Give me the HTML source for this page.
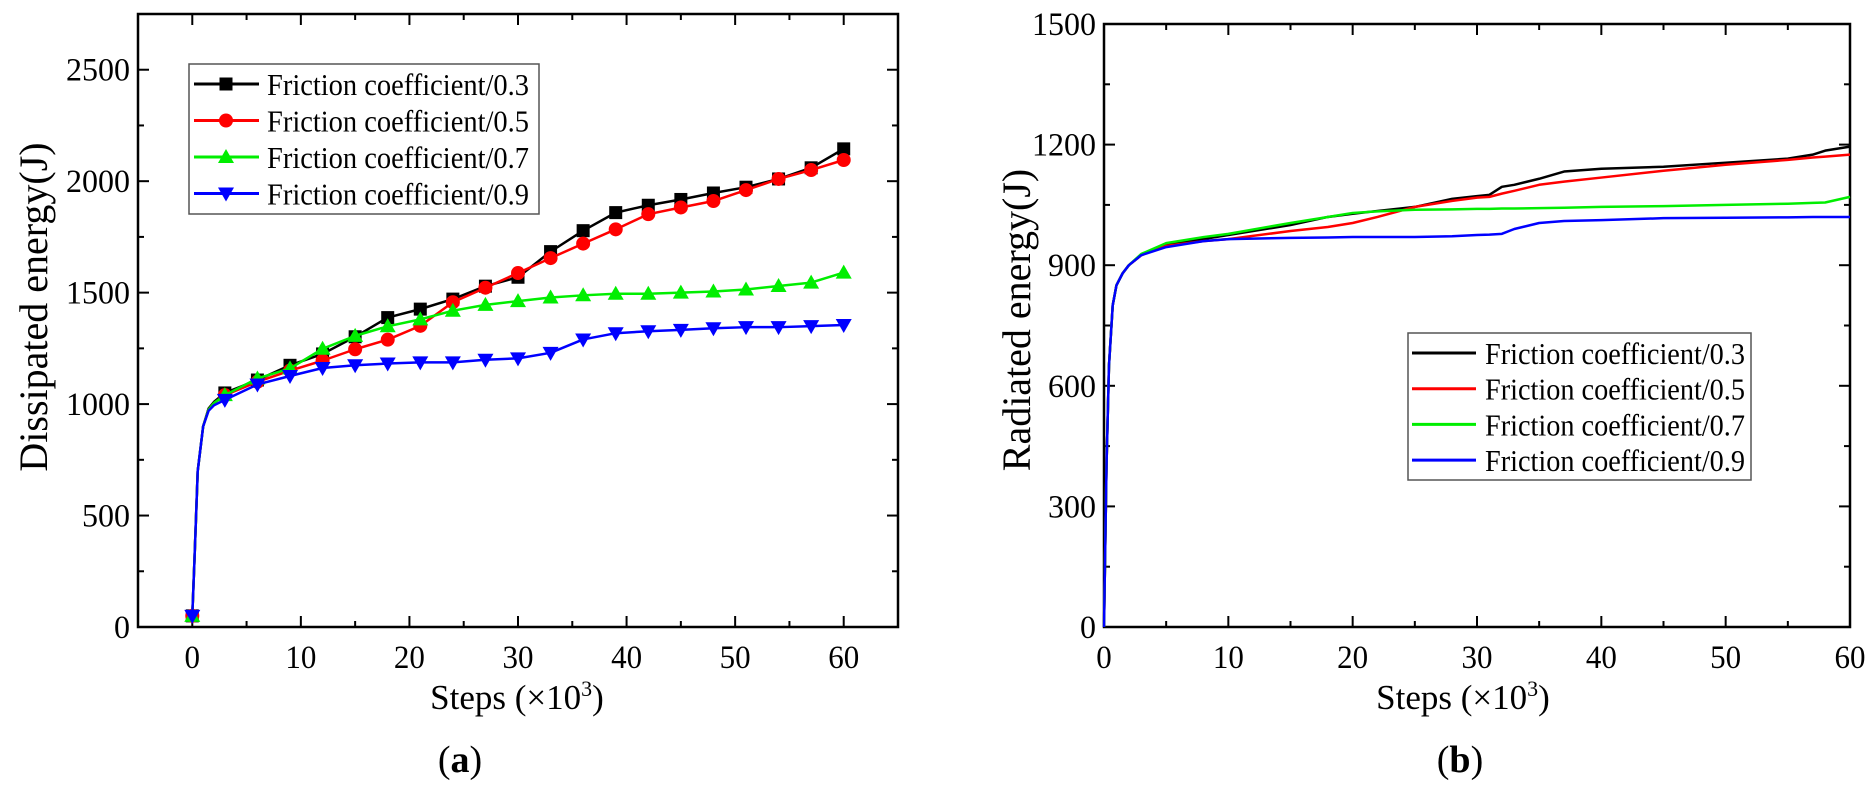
<!DOCTYPE html>
<html><head><meta charset="utf-8"><style>
body{margin:0;background:#fff;width:1874px;height:794px;overflow:hidden}
svg{display:block;font-family:"Liberation Serif",serif}
</style></head><body>
<svg id="fig" width="1874" height="794"></svg>
<script>
// ---- Chart (a) data ----
const stepsA = [0,0.2,0.5,1,1.5,2,3,6,9,12,15,18,21,24,27,30,33,36,39,42,45,48,51,54,57,60];
const dissip03 = [50,300,700,900,980,1010,1050,1108,1174,1225,1302,1388,1426,1471,1529,1569,1684,1778,1859,1892,1918,1947,1973,2010,2060,2145];
const dissip05 = [50,300,700,900,975,1005,1040,1100,1150,1195,1246,1289,1351,1457,1522,1588,1655,1720,1784,1852,1882,1911,1960,2010,2050,2095];
const dissip07 = [50,300,700,900,975,1005,1040,1115,1160,1248,1306,1349,1380,1419,1445,1462,1478,1488,1495,1495,1500,1505,1514,1530,1545,1590];
const dissip09 = [50,300,700,900,970,995,1019,1088,1126,1162,1174,1182,1187,1187,1199,1205,1230,1290,1318,1327,1333,1340,1345,1345,1350,1355];
const ticksAX = [0,10,20,30,40,50,60];
const ticksAY = [0,500,1000,1500,2000,2500];
// ---- Chart (b) data ----
const stepsB = [0,0.2,0.4,0.7,1,1.5,2,3,5,8,10,15,18,20,22,25,28,30,31,32,33,35,37,40,45,50,55,57,58,60];
const rad03 = [0,400,650,800,850,880,900,925,950,965,975,1000,1020,1028,1035,1045,1065,1072,1075,1095,1100,1115,1133,1140,1145,1155,1165,1175,1185,1195];
const rad05 = [0,400,650,800,850,880,900,925,948,960,965,985,995,1005,1020,1045,1060,1068,1070,1078,1085,1100,1108,1118,1135,1150,1162,1168,1170,1175];
const rad07 = [0,400,650,800,850,880,900,928,955,970,978,1005,1020,1030,1034,1038,1039,1040,1040,1041,1041,1042,1043,1045,1047,1050,1053,1055,1056,1070];
const rad09 = [0,400,650,800,850,880,900,925,945,960,965,968,969,970,970,970,972,975,976,978,990,1005,1010,1012,1017,1018,1019,1020,1020,1020];
const ticksBX = [0,10,20,30,40,50,60];
const ticksBY = [0,300,600,900,1200,1500];
const labels = ["Friction coefficient/0.3","Friction coefficient/0.5","Friction coefficient/0.7","Friction coefficient/0.9"];
const colors = ["#000000","#ff0000","#00ee00","#0000ff"];

const NS="http://www.w3.org/2000/svg";
const svg=document.getElementById('fig');
function mk(tag,attrs,parent){const e=document.createElementNS(NS,tag);for(const k in attrs)e.setAttribute(k,attrs[k]);(parent||svg).appendChild(e);return e;}

function axes(g,box,xs,ys,xMin,xMax,yMin,yMax,xMinor,yMinor){
  const sx=v=>box.l+(v-xMin)/(xMax-xMin)*(box.r-box.l);
  const sy=v=>box.b-(v-yMin)/(yMax-yMin)*(box.b-box.t);
  for(let v=Math.ceil(xMin/xMinor)*xMinor;v<=xMax+1e-9;v+=xMinor){
    const major=xs.includes(v);const L=major?11:6;
    const t1=mk('line',{x1:sx(v),x2:sx(v),y1:box.b,y2:box.b-L,stroke:'#000','stroke-width':2},g);
    
    
    mk('line',{x1:sx(v),x2:sx(v),y1:box.t,y2:box.t+L,stroke:'#000','stroke-width':2},g);
  }
  for(let v=yMin;v<=yMax+1e-9;v+=yMinor){
    const major=ys.includes(v);const L=major?11:6;
    const t2=mk('line',{x1:box.l,x2:box.l+L,y1:sy(v),y2:sy(v),stroke:'#000','stroke-width':2},g);
    
    
    mk('line',{x1:box.r-L,x2:box.r,y1:sy(v),y2:sy(v),stroke:'#000','stroke-width':2},g);
  }
  xs.forEach(v=>{const t=mk('text',{x:sx(v),y:box.b+41,'text-anchor':'middle','font-size':33,textLength:String(v).length*15.5,lengthAdjust:'spacingAndGlyphs'},g);t.textContent=v;
    
    });
  ys.forEach(v=>{const t=mk('text',{x:box.l-8,y:sy(v)+11,'text-anchor':'end','font-size':33,textLength:String(v).length*16,lengthAdjust:'spacingAndGlyphs'},g);t.textContent=v;
    
    });
  const fr=mk('rect',{x:box.l,y:box.t,width:box.r-box.l,height:box.b-box.t,fill:'none',stroke:'#000','stroke-width':2.5},g);
  
  
  return {sx,sy};
}
function marker(g,kind,x,y,c){
  let m;
  if(kind===0)m=mk('rect',{x:x-6.5,y:y-6.5,width:13,height:13,fill:c},g);
  else if(kind===1)m=mk('circle',{cx:x,cy:y,r:7,fill:c},g);
  else if(kind===2)m=mk('polygon',{points:`${x},${y-8} ${x-8},${y+6} ${x+8},${y+6}`,fill:c},g);
  else m=mk('polygon',{points:`${x},${y+8} ${x-8},${y-6} ${x+8},${y-6}`,fill:c},g);
  
  
}

// ---- Chart (a) ----
const gA=mk('g',{});


const boxA={l:138,r:898,t:14,b:627};
const A=axes(gA,boxA,ticksAX,ticksAY,-5,65,0,2750,5,250);
[dissip03,dissip05,dissip07,dissip09].forEach((ser,i)=>{
  const p=mk('polyline',{points:stepsA.map((x,j)=>A.sx(x)+','+A.sy(ser[j])).join(' '),fill:'none',stroke:colors[i],'stroke-width':2.5,'stroke-linejoin':'round'},gA);
  
  
  stepsA.forEach((x,j)=>{if(x%3===0)marker(gA,i,A.sx(x),A.sy(ser[j]),colors[i]);});
});
let t=mk('text',{x:517,y:709,'text-anchor':'middle','font-size':35},gA);
t.innerHTML='Steps (×10<tspan dy="-13" font-size="22">3</tspan><tspan dy="13">)</tspan>';


t=mk('text',{transform:'translate(47,307) rotate(-90)','text-anchor':'middle','font-size':40},gA);
t.textContent='Dissipated energy(J)';


t=mk('text',{x:460,y:772,'text-anchor':'middle','font-size':38},gA);
t.innerHTML='(<tspan font-weight="bold">a</tspan>)';


// legend a
const lgA=mk('g',{},gA);


mk('rect',{x:189,y:64,width:350,height:150,fill:'#fff',stroke:'#555','stroke-width':1.5},lgA);
labels.forEach((s,i)=>{const y=84+i*36.5;
  mk('line',{x1:194,x2:259,y1:y,y2:y,stroke:colors[i],'stroke-width':3},lgA);
  marker(lgA,i,226,y,colors[i]);
  const tx=mk('text',{x:267,y:y+11,'font-size':31,textLength:262,lengthAdjust:'spacingAndGlyphs'},lgA);tx.textContent=s;
  
  
});

// ---- Chart (b) ----
const gB=mk('g',{});


const boxB={l:1104,r:1850,t:24,b:627};
const B=axes(gB,boxB,ticksBX,ticksBY,0,60,0,1500,5,150);
[rad03,rad05,rad07,rad09].forEach((ser,i)=>{
  const p=mk('polyline',{points:stepsB.map((x,j)=>B.sx(x)+','+B.sy(ser[j])).join(' '),fill:'none',stroke:colors[i],'stroke-width':2.5,'stroke-linejoin':'round'},gB);
  
  
});
t=mk('text',{x:1463,y:709,'text-anchor':'middle','font-size':35},gB);
t.innerHTML='Steps (×10<tspan dy="-13" font-size="22">3</tspan><tspan dy="13">)</tspan>';


t=mk('text',{transform:'translate(1030,320) rotate(-90)','text-anchor':'middle','font-size':40},gB);
t.textContent='Radiated energy(J)';


t=mk('text',{x:1460,y:772,'text-anchor':'middle','font-size':38},gB);
t.innerHTML='(<tspan font-weight="bold">b</tspan>)';


const lgB=mk('g',{},gB);


mk('rect',{x:1408,y:333,width:343,height:147,fill:'#fff',stroke:'#555','stroke-width':1.5},lgB);
labels.forEach((s,i)=>{const y=353+i*35.7;
  mk('line',{x1:1412,x2:1476,y1:y,y2:y,stroke:colors[i],'stroke-width':3},lgB);
  const tx=mk('text',{x:1485,y:y+11,'font-size':31,textLength:260,lengthAdjust:'spacingAndGlyphs'},lgB);tx.textContent=s;
  
  
});
</script>
</body></html>
